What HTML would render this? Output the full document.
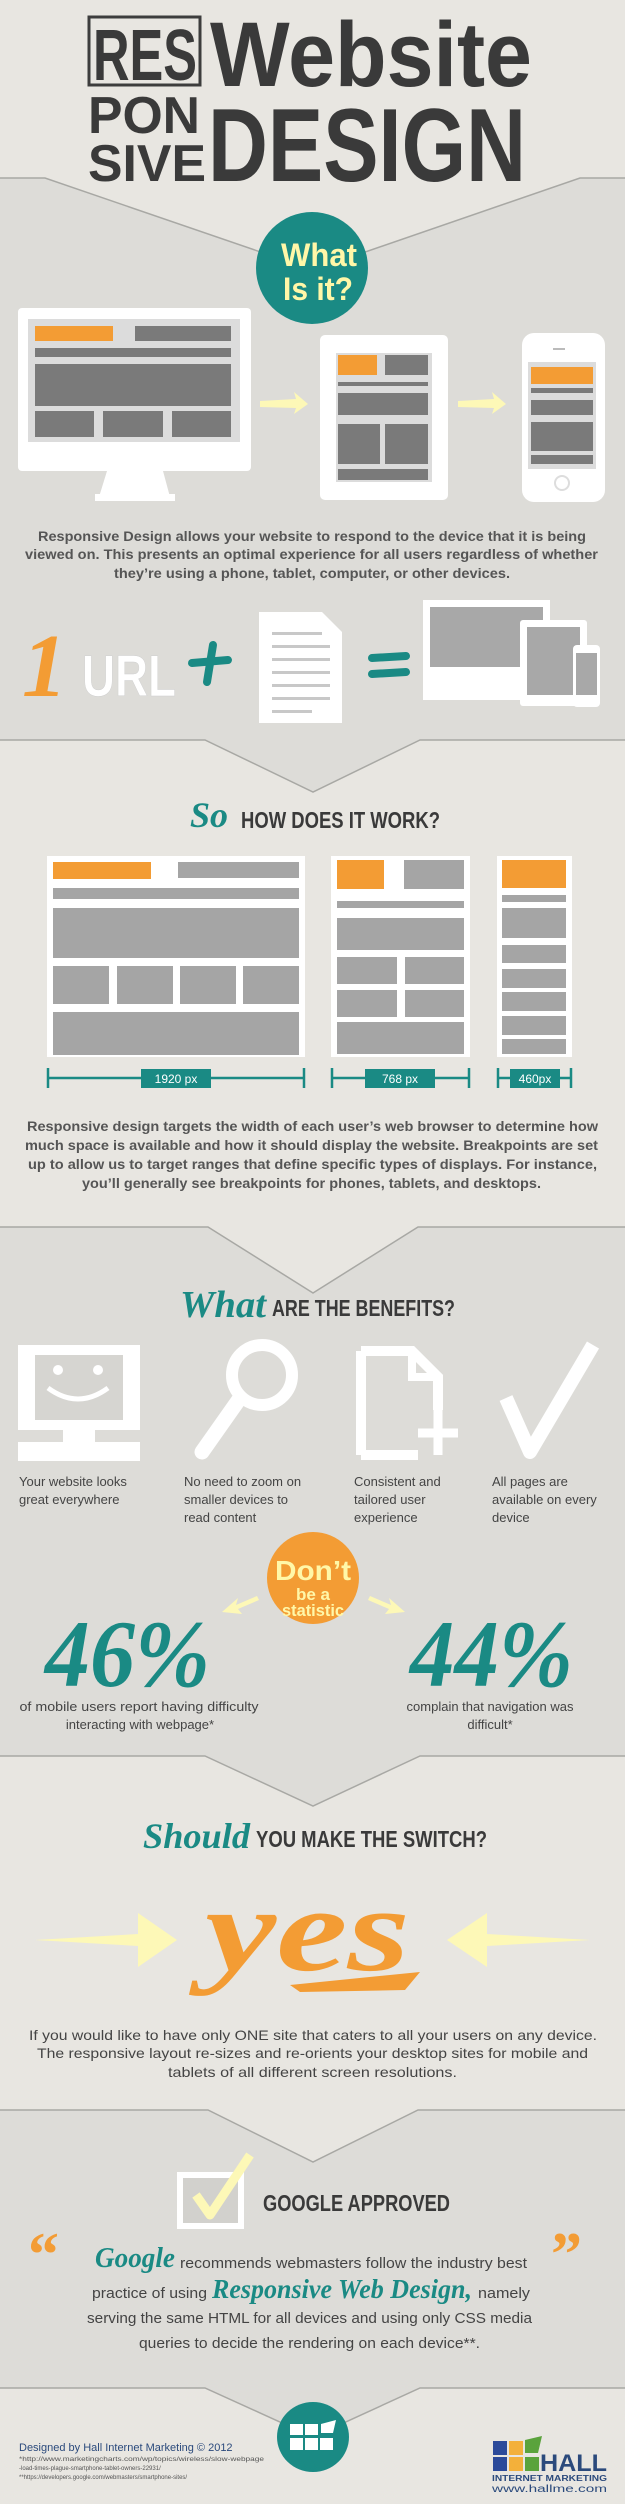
<!DOCTYPE html>
<html><head><meta charset="utf-8"><style>html,body{margin:0;padding:0;background:#e7e5e0}svg{display:block}</style></head><body>
<svg width="625" height="2504" viewBox="0 0 625 2504" xmlns="http://www.w3.org/2000/svg" font-family="Liberation Sans, sans-serif">
<defs>
<style>
.p{font-size:13.5px;fill:#555;font-weight:bold}
.b{font-size:13px;fill:#444}
.h{font-family:"Liberation Sans Narrow","Liberation Sans",sans-serif;font-weight:bold;fill:#3a3a3a}
.s{font-family:"Liberation Serif",serif;font-style:italic;font-weight:bold;fill:#1a8a84}
.g{fill:#a5a5a5}
.d{fill:#7a7a7a}
.o{fill:#f39c34}
</style>
</defs>
<rect x="0" y="0" width="625" height="2504" fill="#e8e6e1"/>
<polygon points="0,178 45,178 313,270 580,178 625,178 625,740 420,740 313,792 205,740 0,740" fill="#dddcd8"/>
<polygon points="0,1227 208,1227 313,1293 418,1227 625,1227 625,1756 420,1756 313,1806 205,1756 0,1756" fill="#dddcd8"/>
<polygon points="0,2110 208,2110 313,2162 418,2110 625,2110 625,2388 420,2388 313,2437 205,2388 0,2388" fill="#dddcd8"/>
<g stroke="#a8a8a4" stroke-width="1.5" fill="none">
<polyline points="0,178 45,178 313,270 580,178 625,178"/>
<polyline points="0,740 205,740 313,792 420,740 625,740"/>
<polyline points="0,1227 208,1227 313,1293 418,1227 625,1227"/>
<polyline points="0,1756 205,1756 313,1806 420,1756 625,1756"/>
<polyline points="0,2110 208,2110 313,2162 418,2110 625,2110"/>
<polyline points="0,2388 205,2388 313,2437 420,2388 625,2388"/>
</g>

<rect x="89" y="17" width="111" height="68" fill="none" stroke="#3d3d3d" stroke-width="3"/>
<text class="h" x="93" y="80" font-size="72" textLength="104" lengthAdjust="spacingAndGlyphs">RES</text>
<text class="h" x="88" y="133" font-size="52" textLength="112" lengthAdjust="spacingAndGlyphs">PON</text>
<text class="h" x="88" y="181" font-size="52" textLength="118" lengthAdjust="spacingAndGlyphs">SIVE</text>
<text class="h" x="210" y="86" font-size="92" textLength="322" lengthAdjust="spacingAndGlyphs">Website</text>
<text class="h" x="208" y="181" font-size="104" textLength="318" lengthAdjust="spacingAndGlyphs">DESIGN</text>

<circle cx="312" cy="268" r="56" fill="#1a8a84"/>
<text class="h" x="281" y="266" font-size="32" style="fill:#fff7a8" textLength="76" lengthAdjust="spacingAndGlyphs">What</text>
<text class="h" x="283" y="300" font-size="32" style="fill:#fff7a8" textLength="70" lengthAdjust="spacingAndGlyphs">Is it?</text>

<rect x="18" y="308" width="233" height="163" rx="4" fill="#fff"/>
<rect x="28" y="319" width="212" height="123" fill="#dcdcdc"/>
<rect x="35" y="326" width="78" height="15" class="o"/>
<rect x="135" y="326" width="96" height="15" class="d"/>
<rect x="35" y="348" width="196" height="9" class="d"/>
<rect x="35" y="364" width="196" height="42" class="d"/>
<rect x="35" y="411" width="59" height="26" class="d"/>
<rect x="103" y="411" width="60" height="26" class="d"/>
<rect x="172" y="411" width="59" height="26" class="d"/>
<polygon points="107,471 163,471 170,497 99,497" fill="#fff"/>
<rect x="95" y="494" width="80" height="7" fill="#fff"/>
<polygon points="260,401 296,399 294,392 308,404 294,414 296,408 260,407" fill="#fdf8b7"/>
<polygon points="458,401 494,399 492,392 506,404 492,414 494,408 458,407" fill="#fdf8b7"/>
<rect x="320" y="335" width="128" height="165" rx="5" fill="#fff"/>
<rect x="336" y="353" width="96" height="129" fill="#dcdcdc"/>
<rect x="338" y="355" width="39" height="20" class="o"/>
<rect x="385" y="355" width="43" height="20" class="d"/>
<rect x="338" y="382" width="90" height="4" class="d"/>
<rect x="338" y="393" width="90" height="22" class="d"/>
<rect x="338" y="424" width="42" height="40" class="d"/>
<rect x="385" y="424" width="43" height="40" class="d"/>
<rect x="338" y="469" width="90" height="11" class="d"/>
<rect x="522" y="333" width="83" height="169" rx="12" fill="#fff"/>
<rect x="528" y="362" width="68" height="107" fill="#dcdcdc"/>
<rect x="531" y="367" width="62" height="17" class="o"/>
<rect x="531" y="388" width="62" height="5" class="d"/>
<rect x="531" y="400" width="62" height="15" class="d"/>
<rect x="531" y="422" width="62" height="29" class="d"/>
<rect x="531" y="455" width="62" height="9" class="d"/>
<circle cx="562" cy="483" r="7" fill="none" stroke="#ddd" stroke-width="2"/>
<rect x="553" y="348" width="12" height="2" fill="#bbb"/>

<text class="p" x="38" y="541" textLength="548" lengthAdjust="spacingAndGlyphs">Responsive Design allows your website to respond to the device that it is being</text>
<text class="p" x="25" y="559" textLength="573" lengthAdjust="spacingAndGlyphs">viewed on. This presents an optimal experience for all users regardless of whether</text>
<text class="p" x="114" y="578" textLength="396" lengthAdjust="spacingAndGlyphs">they’re using a phone, tablet, computer, or other devices.</text>

<text class="s" x="22" y="696" font-size="90" style="fill:#f39c34">1</text>
<text class="h" x="82" y="696" font-size="58" style="fill:#fff" textLength="94" lengthAdjust="spacingAndGlyphs" stroke="#cfcfcf" stroke-width="0.5">URL</text>
<g stroke="#1a8a84" stroke-width="8" stroke-linecap="round"><line x1="192" y1="663" x2="228" y2="660"/><line x1="213" y1="645" x2="207" y2="682"/><line x1="372" y1="658" x2="406" y2="656"/><line x1="372" y1="674" x2="406" y2="672"/></g>
<polygon points="259,612 322,612 342,632 342,723 259,723" fill="#fff"/>
<g fill="#c8c8c8"><rect x="272" y="632" width="50" height="3"/><rect x="272" y="645" width="58" height="3"/><rect x="272" y="658" width="58" height="3"/><rect x="272" y="671" width="58" height="3"/><rect x="272" y="684" width="58" height="3"/><rect x="272" y="697" width="58" height="3"/><rect x="272" y="710" width="40" height="3"/></g>
<rect x="423" y="600" width="127" height="100" fill="#fff"/>
<rect x="430" y="607" width="113" height="60" fill="#a8a8a8"/>
<rect x="520" y="620" width="67" height="86" rx="3" fill="#fff"/>
<rect x="527" y="627" width="53" height="68" fill="#a8a8a8"/>
<rect x="573" y="645" width="27" height="62" rx="4" fill="#fff"/>
<rect x="576" y="653" width="21" height="42" fill="#a8a8a8"/>

<text class="s" x="190" y="827" font-size="36">So</text>
<text class="h" x="241" y="828" font-size="23" textLength="199" lengthAdjust="spacingAndGlyphs">HOW DOES IT WORK?</text>
<rect x="47" y="856" width="258" height="201" fill="#fff"/>
<rect x="53" y="862" width="98" height="17" class="o"/>
<rect x="178" y="862" width="121" height="16" class="g"/>
<rect x="53" y="888" width="246" height="11" class="g"/>
<rect x="53" y="908" width="246" height="50" class="g"/>
<rect x="53" y="966" width="56" height="38" class="g"/>
<rect x="117" y="966" width="56" height="38" class="g"/>
<rect x="180" y="966" width="56" height="38" class="g"/>
<rect x="243" y="966" width="56" height="38" class="g"/>
<rect x="53" y="1012" width="246" height="43" class="g"/>
<rect x="331" y="856" width="139" height="201" fill="#fff"/>
<rect x="337" y="860" width="47" height="29" class="o"/>
<rect x="404" y="860" width="60" height="29" class="g"/>
<rect x="337" y="901" width="127" height="7" class="g"/>
<rect x="337" y="918" width="127" height="32" class="g"/>
<rect x="337" y="957" width="60" height="27" class="g"/>
<rect x="405" y="957" width="59" height="27" class="g"/>
<rect x="337" y="990" width="60" height="27" class="g"/>
<rect x="405" y="990" width="59" height="27" class="g"/>
<rect x="337" y="1022" width="127" height="32" class="g"/>
<rect x="497" y="856" width="75" height="201" fill="#fff"/>
<rect x="502" y="860" width="64" height="28" class="o"/>
<rect x="502" y="895" width="64" height="7" class="g"/>
<rect x="502" y="908" width="64" height="30" class="g"/>
<rect x="502" y="945" width="64" height="18" class="g"/>
<rect x="502" y="969" width="64" height="19" class="g"/>
<rect x="502" y="992" width="64" height="19" class="g"/>
<rect x="502" y="1016" width="64" height="19" class="g"/>
<rect x="502" y="1039" width="64" height="15" class="g"/>
<g stroke="#1a8a84" stroke-width="2.5" fill="none">
<line x1="48" y1="1078" x2="304" y2="1078"/><line x1="48" y1="1068" x2="48" y2="1088"/><line x1="304" y1="1068" x2="304" y2="1088"/>
<line x1="332" y1="1078" x2="469" y2="1078"/><line x1="332" y1="1068" x2="332" y2="1088"/><line x1="469" y1="1068" x2="469" y2="1088"/>
<line x1="498" y1="1078" x2="571" y2="1078"/><line x1="498" y1="1068" x2="498" y2="1088"/><line x1="571" y1="1068" x2="571" y2="1088"/>
</g>
<rect x="141" y="1069" width="70" height="19" fill="#1a8a84"/>
<rect x="365" y="1069" width="70" height="19" fill="#1a8a84"/>
<rect x="510" y="1069" width="50" height="19" fill="#1a8a84"/>
<g fill="#fff" font-size="12" text-anchor="middle"><text x="176" y="1083">1920 px</text><text x="400" y="1083">768 px</text><text x="535" y="1083">460px</text></g>
<text class="p" x="27" y="1131" textLength="571" lengthAdjust="spacingAndGlyphs">Responsive design targets the width of each user’s web browser to determine how</text>
<text class="p" x="25" y="1150" textLength="573" lengthAdjust="spacingAndGlyphs">much space is available and how it should display the website. Breakpoints are set</text>
<text class="p" x="28" y="1169" textLength="569" lengthAdjust="spacingAndGlyphs">up to allow us to target ranges that define specific types of displays. For instance,</text>
<text class="p" x="82" y="1188" textLength="459" lengthAdjust="spacingAndGlyphs">you’ll generally see breakpoints for phones, tablets, and desktops.</text>

<text class="s" x="180" y="1317" font-size="38" textLength="86" lengthAdjust="spacingAndGlyphs">What</text>
<text class="h" x="272" y="1316" font-size="23" textLength="183" lengthAdjust="spacingAndGlyphs">ARE THE BENEFITS?</text>
<rect x="18" y="1345" width="122" height="85" fill="#fff"/>
<rect x="35" y="1355" width="88" height="65" fill="#d6d5d1"/>
<circle cx="58" cy="1370" r="5" fill="#fff"/><circle cx="98" cy="1370" r="5" fill="#fff"/>
<path d="M48,1388 Q78,1410 108,1388" stroke="#fff" stroke-width="5" fill="none"/>
<rect x="63" y="1430" width="32" height="12" fill="#fff"/>
<rect x="18" y="1442" width="122" height="19" fill="#fff"/>
<circle cx="262" cy="1375" r="30" fill="none" stroke="#fff" stroke-width="12"/>
<line x1="240" y1="1398" x2="202" y2="1452" stroke="#fff" stroke-width="15" stroke-linecap="round"/>
<path d="M361,1351 L412,1351 L438,1377 L438,1410 M418,1455 L361,1455 Z" fill="none" stroke="#fff" stroke-width="10"/>
<path d="M361,1351 L361,1455" stroke="#fff" stroke-width="10"/>
<path d="M412,1351 L412,1377 L438,1377" fill="none" stroke="#fff" stroke-width="8"/>
<line x1="438" y1="1410" x2="438" y2="1455" stroke="#fff" stroke-width="9"/>
<line x1="418" y1="1433" x2="458" y2="1433" stroke="#fff" stroke-width="9"/>
<polyline points="506,1398 530,1452 593,1345" fill="none" stroke="#fff" stroke-width="14" stroke-linejoin="round"/>
<g class="b">
<text x="19" y="1486">Your website looks</text><text x="19" y="1504">great everywhere</text>
<text x="184" y="1486">No need to zoom on</text><text x="184" y="1504">smaller devices to</text><text x="184" y="1522">read content</text>
<text x="354" y="1486">Consistent and</text><text x="354" y="1504">tailored user</text><text x="354" y="1522">experience</text>
<text x="492" y="1486">All pages are</text><text x="492" y="1504">available on every</text><text x="492" y="1522">device</text>
</g>
<circle cx="313" cy="1578" r="46" fill="#f39c34"/>
<text class="h" x="313" y="1580" font-size="28" style="fill:#fff7a8" text-anchor="middle" textLength="76" lengthAdjust="spacingAndGlyphs">Don’t</text>
<text class="h" x="313" y="1600" font-size="17" style="fill:#fff7a8" text-anchor="middle">be a</text>
<text class="h" x="313" y="1616" font-size="17" style="fill:#fff7a8" text-anchor="middle" textLength="62" lengthAdjust="spacingAndGlyphs">statistic</text>
<polygon points="257,1596 236,1605 238,1598 222,1612 242,1614 238,1609 259,1600" fill="#fdf8b7"/>
<polygon points="370,1596 391,1605 389,1598 405,1612 385,1614 389,1609 368,1600" fill="#fdf8b7"/>
<text class="s" x="45" y="1686" font-size="95" textLength="165" lengthAdjust="spacingAndGlyphs">46%</text>
<text class="s" x="410" y="1686" font-size="95" textLength="163" lengthAdjust="spacingAndGlyphs">44%</text>
<g class="b" text-anchor="middle" style="font-size:13px">
<text x="139" y="1711" textLength="239" lengthAdjust="spacingAndGlyphs">of mobile users report having difficulty</text>
<text x="140" y="1729">interacting with webpage*</text>
<text x="490" y="1711">complain that navigation was</text>
<text x="490" y="1729">difficult*</text>
</g>

<text class="s" x="143" y="1848" font-size="36" textLength="107" lengthAdjust="spacingAndGlyphs">Should</text>
<text class="h" x="256" y="1847" font-size="23" textLength="231" lengthAdjust="spacingAndGlyphs">YOU MAKE THE SWITCH?</text>
<text x="205" y="1970" font-family="Liberation Serif, serif" font-style="italic" font-weight="bold" font-size="120" fill="#f39c34" textLength="205" lengthAdjust="spacingAndGlyphs">yes</text>
<polygon points="290,1985 420,1972 405,1990 300,1992" fill="#f39c34"/>
<polygon points="35,1940 138,1934 138,1913 177,1940 138,1967 138,1946" fill="#fdf8b7"/>
<polygon points="590,1940 487,1934 487,1913 447,1940 487,1967 487,1946" fill="#fdf8b7"/>
<g class="p" style="font-size:14px;font-weight:normal;fill:#444">
<text x="29" y="2040" textLength="568" lengthAdjust="spacingAndGlyphs">If you would like to have only ONE site that caters to all your users on any device.</text>
<text x="37" y="2058" textLength="551" lengthAdjust="spacingAndGlyphs">The responsive layout re-sizes and re-orients your desktop sites for mobile and</text>
<text x="168" y="2077" textLength="289" lengthAdjust="spacingAndGlyphs">tablets of all different screen resolutions.</text>
</g>

<rect x="180" y="2175" width="61" height="51" fill="#d2d1cd" stroke="#fff" stroke-width="6"/>
<polyline points="196,2195 210,2215 250,2155" fill="none" stroke="#fdf8b7" stroke-width="9" stroke-linejoin="round"/>
<text class="h" x="263" y="2211" font-size="23" textLength="187" lengthAdjust="spacingAndGlyphs">GOOGLE APPROVED</text>
<text x="28" y="2275" font-family="Liberation Serif, serif" font-weight="bold" font-size="62" fill="#f39c34">“</text>
<text x="551" y="2275" font-family="Liberation Serif, serif" font-weight="bold" font-size="62" fill="#f39c34">”</text>
<text class="s" x="95" y="2267" font-size="28" textLength="80" lengthAdjust="spacingAndGlyphs">Google</text>
<g class="b" style="font-size:15px">
<text x="180" y="2268" textLength="347" lengthAdjust="spacingAndGlyphs">recommends webmasters follow the industry best</text>
<text x="92" y="2298" textLength="115" lengthAdjust="spacingAndGlyphs">practice of using</text>
<text x="478" y="2298" textLength="52" lengthAdjust="spacingAndGlyphs">namely</text>
<text x="87" y="2323" textLength="445" lengthAdjust="spacingAndGlyphs">serving the same HTML for all devices and using only CSS media</text>
<text x="139" y="2348" textLength="341" lengthAdjust="spacingAndGlyphs">queries to decide the rendering on each device**.</text>
</g>
<text class="s" x="212" y="2298" font-size="27" textLength="260" lengthAdjust="spacingAndGlyphs">Responsive Web Design,</text>

<ellipse cx="313" cy="2437" rx="36" ry="35" fill="#1a8a84"/>
<g fill="#fff"><rect x="290" y="2424" width="13" height="11"/><rect x="305" y="2424" width="13" height="11"/><rect x="290" y="2438" width="13" height="12"/><rect x="305" y="2438" width="13" height="12"/><rect x="320" y="2438" width="13" height="12"/><path d="M321,2433 L321,2424 L336,2420 L333,2433Z"/></g>
<text x="19" y="2451" font-size="11" fill="#2b4a7c">Designed by Hall Internet Marketing © 2012</text>
<g font-size="6" fill="#555"><text x="19" y="2461" textLength="245" lengthAdjust="spacingAndGlyphs">*http://www.marketingcharts.com/wp/topics/wireless/slow-webpage</text><text x="19" y="2470">-load-times-plague-smartphone-tablet-owners-22931/</text><text x="19" y="2479">**https://developers.google.com/webmasters/smartphone-sites/</text></g>
<rect x="493" y="2441" width="14" height="14" fill="#2b4a9a"/><rect x="509" y="2441" width="14" height="14" fill="#f3b03a"/>
<rect x="493" y="2457" width="14" height="14" fill="#2b4a9a"/><rect x="509" y="2457" width="14" height="14" fill="#f3b03a"/><rect x="525" y="2457" width="14" height="14" fill="#5aa33c"/>
<path d="M525,2453 L525,2440 L542,2436 L538,2453Z" fill="#5aa33c"/>
<text x="540" y="2471" font-size="24" font-weight="bold" fill="#2b4a7c" textLength="67" lengthAdjust="spacingAndGlyphs">HALL</text>
<text x="492" y="2481" font-size="8" font-weight="bold" fill="#2b4a7c" textLength="115" lengthAdjust="spacingAndGlyphs">INTERNET MARKETING</text>
<text x="492" y="2492" font-size="10" fill="#2b4a7c" textLength="115" lengthAdjust="spacingAndGlyphs">www.hallme.com</text>
</svg>
</body></html>
